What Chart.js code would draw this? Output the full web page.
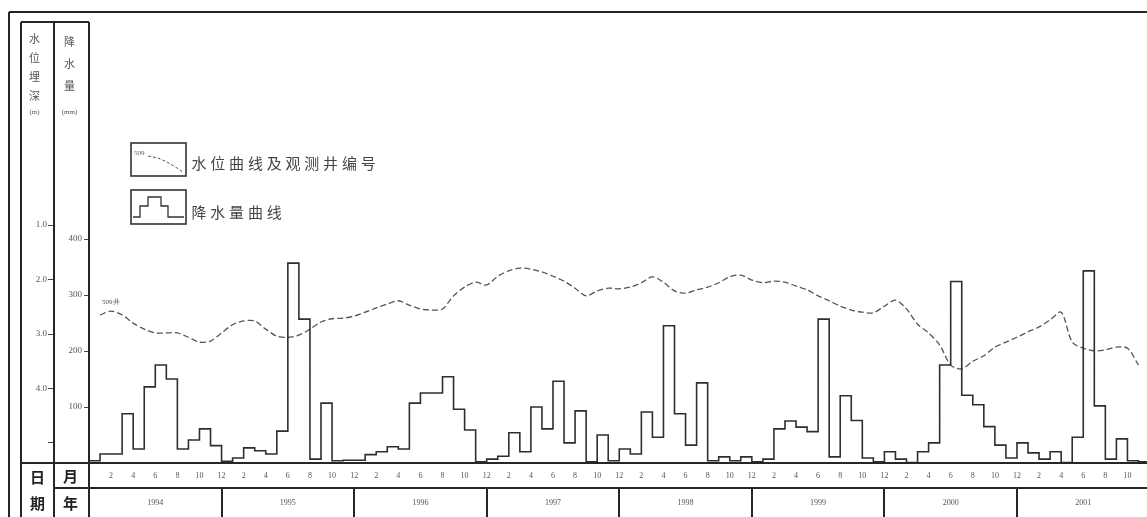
<!DOCTYPE html>
<html>
<head>
<meta charset="utf-8">
<script src="https://cdn.jsdelivr.net/npm/chart.js@4.4.0/dist/chart.umd.min.js"></script>
<style>
  html, body { margin: 0; padding: 0; background: #fff; }
  #wrap { width: 1147px; height: 517px; position: relative; }
</style>
</head>
<body>
<div id="wrap"><canvas id="c" width="1147" height="517"></canvas></div>
<script>
// ---- data ----
const years = ['1994', '1995', '1996', '1997', '1998', '1999', '2000', '2001'];
const monthLabels = ['2', '4', '6', '8', '10', '12'];
const depthTicks = [1, 2, 3, 4, 5];
const depthLabels = ['1.0', '2.0', '3.0', '4.0', ''];
const rainTicks = [100, 200, 300, 400];

// monthly precipitation (mm), Jan 1994 .. Dec 2001
const rain1994 = [4, 16, 16, 88, 25, 136, 175, 150, 25, 41, 61, 31];
const rain1995 = [3, 9, 27, 22, 16, 57, 357, 257, 7, 107, 4, 5];
const rain1996 = [5, 15, 20, 29, 25, 107, 125, 125, 154, 96, 59, 2];
const rain1997 = [7, 12, 54, 20, 100, 61, 146, 36, 93, 2, 50, 4];
const rain1998 = [25, 16, 91, 46, 245, 88, 32, 143, 4, 11, 4, 11];
const rain1999 = [2, 7, 61, 75, 64, 56, 257, 11, 120, 76, 9, 2];
const rain2000 = [20, 7, 1, 20, 36, 175, 324, 121, 104, 65, 32, 9];
const rain2001 = [36, 18, 7, 20, 1, 46, 343, 102, 7, 43, 4, 2];

// water-table depth (m) of well 509, at the end of each month (Jan 1994 .. Nov 2001)
const depth1994 = [2.65, 2.58, 2.65, 2.80, 2.91, 2.98, 2.98, 2.98, 3.06, 3.15, 3.13, 2.98];
const depth1995 = [2.83, 2.76, 2.76, 2.91, 3.04, 3.06, 3.02, 2.91, 2.78, 2.72, 2.71, 2.67];
const depth1996 = [2.60, 2.52, 2.45, 2.39, 2.47, 2.54, 2.56, 2.54, 2.30, 2.14, 2.05, 2.10];
const depth1997 = [1.94, 1.84, 1.79, 1.81, 1.86, 1.94, 2.03, 2.16, 2.30, 2.21, 2.16, 2.17];
const depth1998 = [2.14, 2.06, 1.95, 2.05, 2.21, 2.25, 2.19, 2.14, 2.06, 1.95, 1.92, 2.01];
const depth1999 = [2.06, 2.03, 2.05, 2.12, 2.19, 2.30, 2.39, 2.49, 2.56, 2.60, 2.61, 2.49];
const depth2000 = [2.38, 2.54, 2.82, 2.98, 3.20, 3.57, 3.64, 3.50, 3.40, 3.24, 3.15, 3.06];
const depth2001 = [2.96, 2.87, 2.74, 2.60, 3.15, 3.26, 3.31, 3.29, 3.24, 3.26, 3.57];

const wellName = '509井';
const legendWater = '水位曲线及观测井编号';
const legendRain = '降水量曲线';
const headDepth = ['水', '位', '埋', '深'];
const headDepthUnit = '(m)';
const headRain = ['降', '水', '量'];
const headRainUnit = '(mm)';
const footDate = ['日', '期'];
const footMonth = '月';
const footYear = '年';

// ---- series assembly ----
const rainfall = [].concat(rain1994, rain1995, rain1996, rain1997, rain1998, rain1999, rain2000, rain2001);
const depth = [].concat(depth1994, depth1995, depth1996, depth1997, depth1998, depth1999, depth2000, depth2001);
// each month's total is held from the start of the month to its end
const rainPoints = [{ x: 0, y: 0 }].concat(rainfall.map((v, i) => ({ x: i + 1, y: v })));
const depthPoints = depth.map((v, i) => ({ x: i + 1, y: v }));

const INK = '#262626';
const TICK_FONT = { family: 'Liberation Serif', size: 8 };
const AXIS_FONT = { family: 'Liberation Serif', size: 9 };
const CJK = '"Noto Sans CJK SC", "Noto Sans CJK JP", sans-serif';

// frame, headers, legend and well label
const sheetPlugin = {
  id: 'sheet',
  afterDraw(chart) {
    const { ctx, chartArea, scales } = chart;
    const x = scales.x, yr = scales.year, dep = scales.depth, rn = scales.rain;
    const W = chart.width, H = chart.height;
    ctx.save();
    ctx.strokeStyle = INK;
    ctx.lineWidth = 2;
    const line = (x1, y1, x2, y2) => { ctx.beginPath(); ctx.moveTo(x1, y1); ctx.lineTo(x2, y2); ctx.stroke(); };
    // outer frame
    line(9, 12, W, 12);
    line(9, 12, 9, H);
    // header columns
    line(dep.left, chartArea.top, rn.right, chartArea.top);
    line(dep.left, chartArea.top, dep.left, H);
    line(rn.left, chartArea.top, rn.left, H);
    line(rn.right, chartArea.top, rn.right, H);
    // base line and date rows
    line(dep.left, chartArea.bottom, W, chartArea.bottom);
    line(rn.left, yr.top, W, yr.top);
    for (let k = 1; k < years.length; k++) {
      const px = Math.round(x.getPixelForValue(12 * k));
      line(px, yr.top, px, H);
    }

    // column headers
    ctx.fillStyle = '#555';
    ctx.textAlign = 'center';
    ctx.textBaseline = 'middle';
    ctx.font = '11px ' + CJK;
    const c1 = (dep.left + dep.right) / 2 - 3, c2 = (rn.left + rn.right) / 2 - 2;
    headDepth.forEach((ch, i) => ctx.fillText(ch, c1, 39 + i * 19));
    headRain.forEach((ch, i) => ctx.fillText(ch, c2, 42 + i * 22));
    ctx.font = '7px Liberation Serif';
    ctx.fillText(headDepthUnit, c1, 112);
    ctx.fillText(headRainUnit, c2, 112);

    // date row headers
    ctx.fillStyle = '#222';
    ctx.font = 'bold 15px ' + CJK;
    ctx.fillText(footDate[0], c1 + 3, 477);
    ctx.fillText(footDate[1], c1 + 3, 503);
    ctx.fillText(footMonth, c2 + 1, 476);
    ctx.fillText(footYear, c2 + 1, 503);

    // legend
    ctx.strokeStyle = '#333';
    ctx.lineWidth = 1.6;
    ctx.strokeRect(131, 143, 55, 33);
    ctx.strokeRect(131, 190, 55, 34);
    ctx.fillStyle = '#666';
    ctx.font = '7px Liberation Serif';
    ctx.textAlign = 'left';
    ctx.fillText('509', 134, 153);
    ctx.lineWidth = 1;
    ctx.strokeStyle = '#555';
    ctx.setLineDash([3, 2]);
    ctx.beginPath();
    ctx.moveTo(148, 156); ctx.lineTo(158, 158); ctx.lineTo(167, 162);
    ctx.lineTo(177, 168); ctx.lineTo(183, 172);
    ctx.stroke();
    ctx.setLineDash([]);
    ctx.strokeStyle = '#333';
    ctx.lineWidth = 1.3;
    ctx.beginPath();
    ctx.moveTo(133, 217); ctx.lineTo(140, 217); ctx.lineTo(140, 206);
    ctx.lineTo(148, 206); ctx.lineTo(148, 197); ctx.lineTo(161, 197);
    ctx.lineTo(161, 206); ctx.lineTo(168, 206); ctx.lineTo(168, 217);
    ctx.lineTo(184, 217);
    ctx.stroke();
    ctx.fillStyle = '#444';
    ctx.font = '15px ' + CJK;
    ctx.textAlign = 'center';
    Array.from(legendWater).forEach((ch, i) => ctx.fillText(ch, 199 + i * 18.8, 163));
    Array.from(legendRain).forEach((ch, i) => ctx.fillText(ch, 199 + i * 18.8, 212));

    // well label at the start of the water-level curve
    const p0 = depthPoints[0];
    ctx.fillStyle = '#555';
    ctx.font = '7px Liberation Serif';
    ctx.textAlign = 'left';
    ctx.fillText(wellName, x.getPixelForValue(p0.x) + 2, dep.getPixelForValue(p0.y) - 13);
    ctx.restore();
  }
};

const X_MAX = 95.77;

new Chart(document.getElementById('c'), {
  data: {
    datasets: [
      {
        type: 'line',
        label: '降水量',
        data: rainPoints,
        xAxisID: 'x',
        yAxisID: 'rain',
        stepped: 'after',
        borderColor: '#2e2e2e',
        borderWidth: 1.6,
        pointRadius: 0,
        fill: false
      },
      {
        type: 'line',
        label: '水位埋深',
        data: depthPoints,
        xAxisID: 'x',
        yAxisID: 'depth',
        borderColor: '#555',
        borderWidth: 1.3,
        borderDash: [6, 3],
        tension: 0.3,
        pointRadius: 0,
        fill: false
      }
    ]
  },
  options: {
    responsive: false,
    devicePixelRatio: 1,
    animation: false,
    layout: { padding: { left: 21, top: 22, right: 0, bottom: 0 } },
    plugins: { legend: { display: false }, tooltip: { enabled: false } },
    scales: {
      x: {
        type: 'linear', position: 'bottom', weight: 0,
        min: 0, max: X_MAX,
        grid: { display: false, drawTicks: false },
        border: { display: false },
        afterBuildTicks: s => { s.ticks = []; for (let m = 2; m < 96; m += 2) s.ticks.push({ value: m }); },
        afterFit: s => { s.height = 25; },
        ticks: {
          autoSkip: false, maxRotation: 0, padding: 8, color: '#555', font: TICK_FONT,
          callback: v => monthLabels[((v - 1) % 12 + 1) / 2 - 1]
        }
      },
      year: {
        type: 'linear', position: 'bottom', weight: 1,
        min: 0, max: X_MAX,
        grid: { display: false, drawTicks: false },
        border: { display: false },
        afterBuildTicks: s => { s.ticks = years.map((y, k) => ({ value: 12 * k + 6 })); },
        afterFit: s => { s.height = 29; },
        ticks: {
          autoSkip: false, maxRotation: 0, padding: 10, color: '#555', font: TICK_FONT,
          callback: v => years[(v - 6) / 12]
        }
      },
      depth: {
        type: 'linear', position: 'left', weight: 2,
        reverse: true, min: -2.725, max: 5.367,
        grid: { drawOnChartArea: false, drawTicks: true, tickLength: 6, color: '#444', lineWidth: 1 },
        border: { display: false },
        afterBuildTicks: s => { s.ticks = depthTicks.map(v => ({ value: v })); },
        afterFit: s => { s.width = 33; },
        ticks: {
          padding: 1, color: '#555', font: AXIS_FONT,
          callback: v => depthLabels[depthTicks.indexOf(v)]
        }
      },
      rain: {
        type: 'linear', position: 'left', weight: 1,
        min: 0, max: 787.5,
        grid: { drawOnChartArea: false, drawTicks: true, tickLength: 5, color: '#444', lineWidth: 1 },
        border: { display: false },
        afterBuildTicks: s => { s.ticks = rainTicks.map(v => ({ value: v })); },
        afterFit: s => { s.width = 35; },
        ticks: { padding: 2, color: '#555', font: AXIS_FONT, callback: v => String(v) }
      }
    }
  },
  plugins: [sheetPlugin]
});
</script>
</body>
</html>
